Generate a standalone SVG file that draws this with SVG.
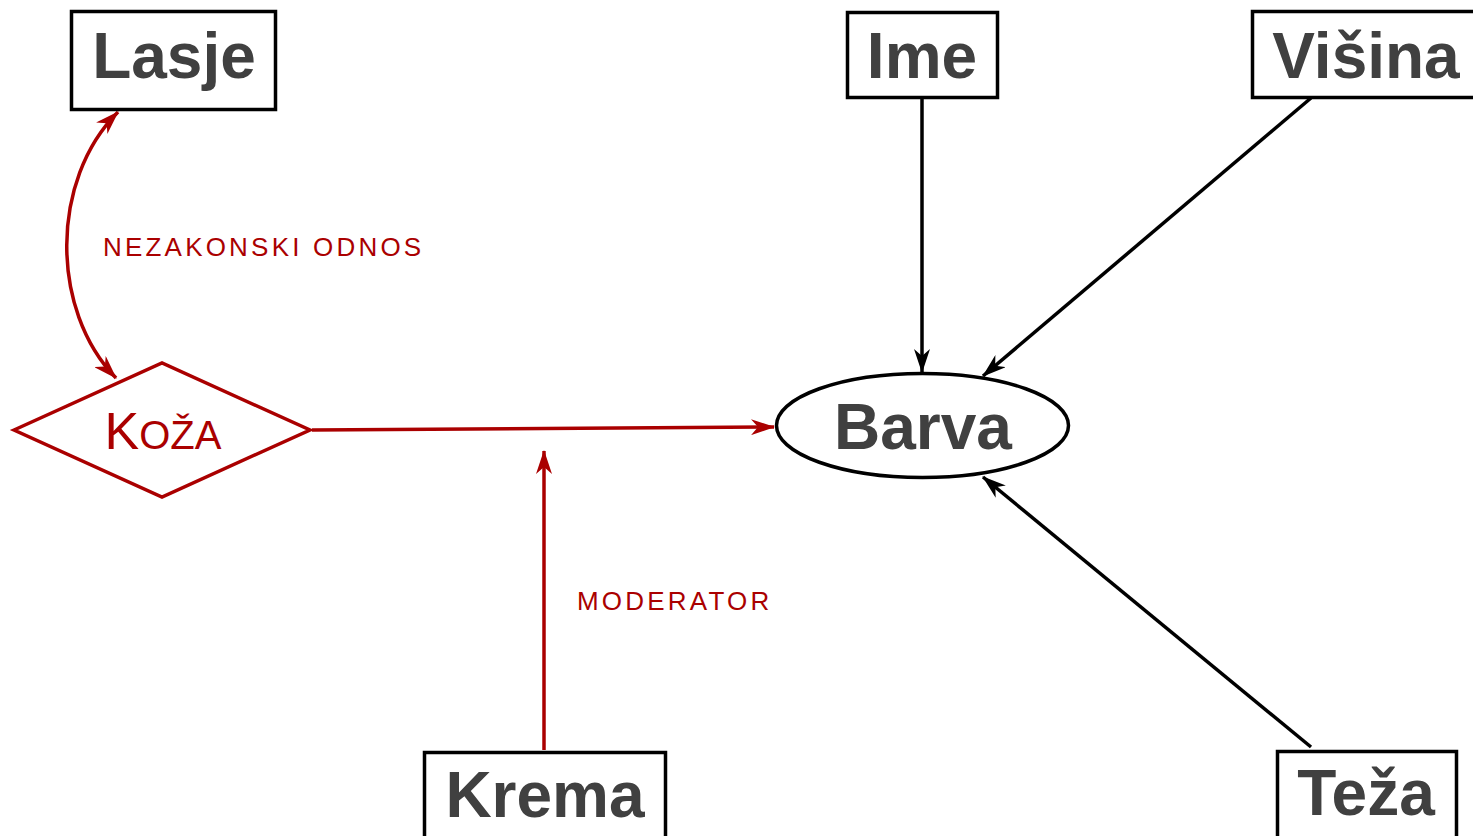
<svg xmlns="http://www.w3.org/2000/svg" width="1473" height="836" viewBox="0 0 1473 836">
<style>
.box{fill:#fff;stroke:#000;stroke-width:3.5}
.lbl{font-family:"Liberation Sans",Arial,sans-serif;font-weight:bold;font-size:64px;fill:#404040;text-anchor:middle}
.red{stroke:#aa0000;stroke-width:3.5;fill:none}
.blk{stroke:#000;stroke-width:3.5;fill:none}
.elab{font-family:"Liberation Sans",Arial,sans-serif;font-size:26px;fill:#aa0000;letter-spacing:3.2px}
</style>
<defs>
<marker id="ar" viewBox="0 0 24 16" refX="23" refY="8" markerWidth="24" markerHeight="16" markerUnits="userSpaceOnUse" orient="auto-start-reverse">
<path d="M0,0 L24,8 L0,16 L7,8 z" fill="#aa0000"/>
</marker>
<marker id="ab" viewBox="0 0 24 16" refX="23" refY="8" markerWidth="24" markerHeight="16" markerUnits="userSpaceOnUse" orient="auto-start-reverse">
<path d="M0,0 L24,8 L0,16 L7,8 z" fill="#000"/>
</marker>
</defs>
<rect width="1473" height="836" fill="#fff"/>
<g id="connectors">
<path class="red" d="M118,112 C50,180 50,310 116,378" marker-start="url(#ar)" marker-end="url(#ar)"/>
<path class="red" d="M312,430 L774,427" marker-end="url(#ar)"/>
<path class="red" d="M544,750 L544,451" marker-end="url(#ar)"/>
<path class="blk" d="M922,98 L922,372" marker-end="url(#ab)"/>
<path class="blk" d="M1311,98 L983,376" marker-end="url(#ab)"/>
<path class="blk" d="M1311,747 L983,477" marker-end="url(#ab)"/>
<text class="elab" x="103" y="256">NEZAKONSKI ODNOS</text>
<text class="elab" x="577" y="610">MODERATOR</text>
</g>
<g id="lasje">
<rect class="box" x="71.5" y="11.5" width="204" height="98"/>
<text class="lbl" x="174" y="78">Lasje</text>
</g>
<g id="ime">
<rect class="box" x="847.5" y="12.5" width="150" height="85"/>
<text class="lbl" x="922" y="78">Ime</text>
</g>
<g id="visina">
<rect class="box" x="1252.5" y="11.5" width="225" height="86"/>
<text class="lbl" x="1366" y="78">Višina</text>
</g>
<g id="barva">
<ellipse cx="922.5" cy="425.5" rx="146" ry="52" fill="#fff" stroke="#000" stroke-width="3.5"/>
<text class="lbl" x="923" y="449" font-size="66">Barva</text>
</g>
<g id="koza">
<polygon points="14,430 162,363 310,430 162,497" fill="#fff" stroke="#aa0000" stroke-width="3.5"/>
<text x="163" y="449" font-family="'Liberation Sans',Arial,sans-serif" fill="#aa0000" text-anchor="middle"><tspan font-size="52">K</tspan><tspan font-size="40">OŽA</tspan></text>
</g>
<g id="krema">
<rect class="box" x="424.5" y="752.5" width="241" height="100"/>
<text class="lbl" x="545" y="817">Krema</text>
</g>
<g id="teza">
<rect class="box" x="1277.5" y="751.5" width="179" height="100"/>
<text class="lbl" x="1366" y="815">Teža</text>
</g>
</svg>
